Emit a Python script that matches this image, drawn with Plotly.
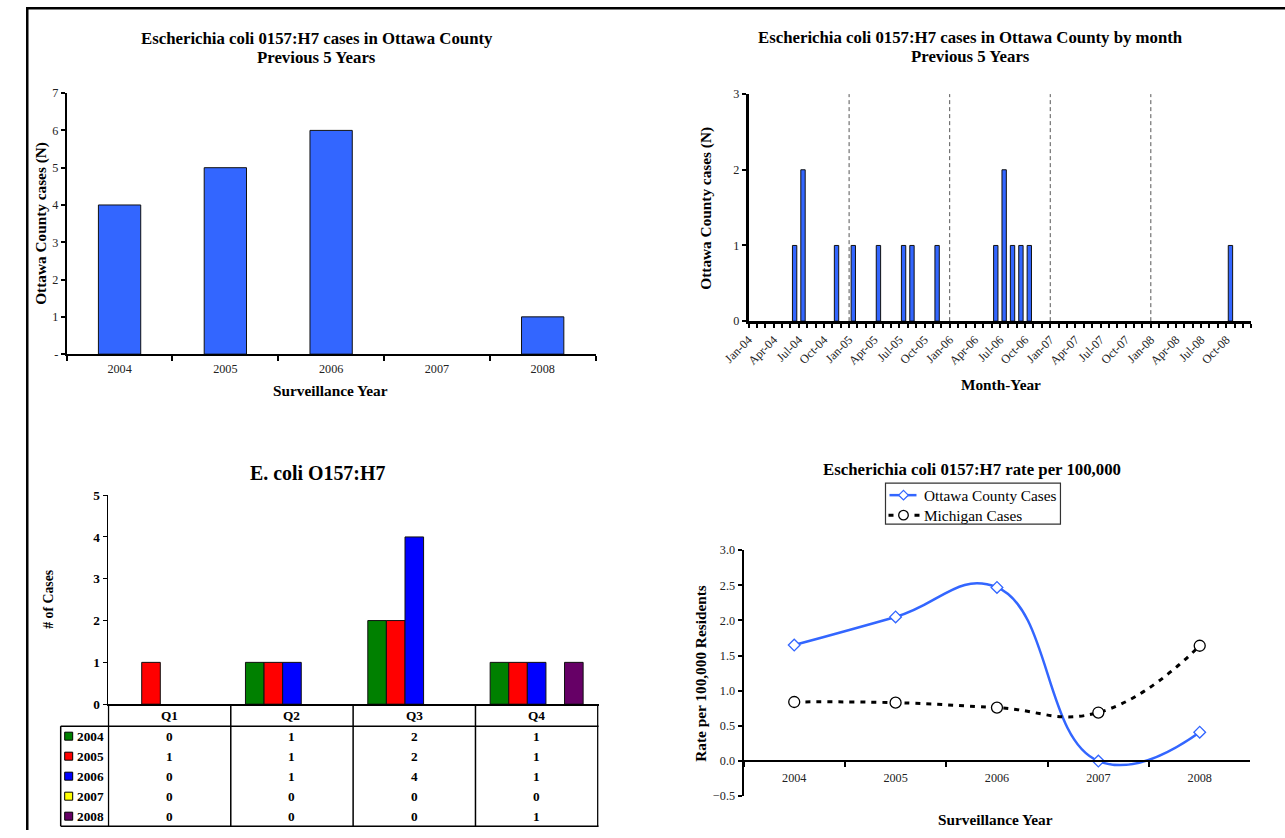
import plotly.graph_objects as go

W, H = 1285, 838
# mapping from target picture pixels to figure pixels (compensates capture offset/scale)
SX, OX, SY, OY = 0.98, 24.3, 0.982, 5.9
def px(x): return (x - OX) / SX / W
def py(y): return 1 - (y - OY) / SY / H
def fs(s): return round(s / SX, 1)

FONT = "Liberation Serif"
BLUE = "#3366FF"

# ---------------- data ----------------
years = ["2004", "2005", "2006", "2007", "2008"]
annual_cases = [4, 5, 6, 0, 1]

month_names = ["Jan", "Feb", "Mar", "Apr", "May", "Jun",
               "Jul", "Aug", "Sep", "Oct", "Nov", "Dec"]
month_labels = [f"{m}-{y[2:]}" for y in years for m in month_names]
monthly_cases = [
    0, 0, 0, 0, 0, 1, 2, 0, 0, 0, 1, 0,   # 2004
    1, 0, 0, 1, 0, 0, 1, 1, 0, 0, 1, 0,   # 2005
    0, 0, 0, 0, 0, 1, 2, 1, 1, 1, 0, 0,   # 2006
    0, 0, 0, 0, 0, 0, 0, 0, 0, 0, 0, 0,   # 2007
    0, 0, 0, 0, 0, 0, 0, 0, 0, 1, 0, 0,   # 2008
]

quarters = ["Q1", "Q2", "Q3", "Q4"]
q_2004 = [0, 1, 2, 1]
q_2005 = [1, 1, 2, 1]
q_2006 = [0, 1, 4, 1]
q_2007 = [0, 0, 0, 0]
q_2008 = [0, 0, 0, 1]
quarterly = [q_2004, q_2005, q_2006, q_2007, q_2008]
q_colors = ["#008000", "#FF0000", "#0000FF", "#FFFF00", "#660066"]

rate_series = ["Ottawa County Cases", "Michigan Cases"]
ottawa_rate = [1.65, 2.05, 2.47, 0.0, 0.41]
michigan_rate = [0.84, 0.83, 0.76, 0.69, 1.64]


def edge_widths(vals, w=1):
    # no outline on empty (zero-height) bars
    return [w if v else 0 for v in vals]


# ---------------- figure ----------------
fig = go.Figure()

# Top-left: annual bars
fig.add_trace(go.Bar(x=years, y=annual_cases, xaxis="x", yaxis="y", width=0.4,
                     marker=dict(color=BLUE, line=dict(color="#111", width=edge_widths(annual_cases))),
                     showlegend=False))

# Top-right: monthly bars
fig.add_trace(go.Bar(x=list(range(len(month_labels))), y=monthly_cases,
                     xaxis="x2", yaxis="y2", width=0.52,
                     marker=dict(color=BLUE, line=dict(color="#111", width=edge_widths(monthly_cases))),
                     showlegend=False))

# Bottom-left: quarterly grouped bars
for yr, vals, col in zip(years, quarterly, q_colors):
    fig.add_trace(go.Bar(x=quarters, y=vals, name=yr, xaxis="x3", yaxis="y3",
                         marker=dict(color=col, line=dict(color="#111", width=edge_widths(vals))),
                         showlegend=False))

# Bottom-right: rates
OTT_LINE = dict(color=BLUE, width=2.5)
MI_LINE = dict(color="black", width=3, dash="5px,6px")
fig.add_trace(go.Scatter(x=years, y=ottawa_rate, name=rate_series[0],
                         xaxis="x4", yaxis="y4", mode="lines+markers", showlegend=False,
                         line=dict(shape="spline", smoothing=1.3, **OTT_LINE),
                         marker=dict(symbol="diamond", size=9, color="white",
                                     line=dict(color=BLUE, width=1.3))))
fig.add_trace(go.Scatter(x=years, y=michigan_rate, name=rate_series[1],
                         xaxis="x4", yaxis="y4", mode="lines+markers", showlegend=False,
                         line=dict(shape="spline", smoothing=1.3, **MI_LINE),
                         marker=dict(symbol="circle", size=11, color="white",
                                     line=dict(color="black", width=1.3))))

tickfont = dict(family=FONT, size=fs(12), color="#222")
axis_common = dict(showline=True, linecolor="black", showgrid=False, zeroline=False,
                   ticks="outside", tickcolor="black")

# BR x-axis position at y = 0
br_y0, br_y1 = py(795), py(549)
br_range = [-0.5, 3.0]
br_xpos = br_y0 + (0 - br_range[0]) / (br_range[1] - br_range[0]) * (br_y1 - br_y0)

fig.update_layout(
    width=W, height=H, margin=dict(l=0, r=0, t=0, b=0),
    paper_bgcolor="white", plot_bgcolor="rgba(0,0,0,0)",
    font=dict(family=FONT, color="black"), showlegend=False,
    barmode="group", bargap=0.24, bargroupgap=0,
    xaxis=dict(domain=[px(65), px(594)], anchor="y", type="category",
               tickson="boundaries", ticklen=5, tickwidth=2, linewidth=2,
               ticklabelstandoff=2, tickfont=tickfont, **axis_common),
    yaxis=dict(domain=[py(353), py(92)], anchor="x", range=[0, 7],
               tickvals=list(range(8)), ticktext=["-"] + [str(i) for i in range(1, 8)],
               ticklen=4, tickwidth=1.5, linewidth=2, tickfont=tickfont, **axis_common),
    xaxis2=dict(domain=[px(747), px(1250)], anchor="y2", range=[-0.5, len(month_labels) - 0.5],
                tickvals=[i - 0.5 for i in range(len(month_labels) + 1)],
                ticktext=[month_labels[i] if (i < len(month_labels) and i % 3 == 0) else ""
                          for i in range(len(month_labels) + 1)],
                tickangle=-45, ticklen=4, tickwidth=2, linewidth=2.5,
                tickfont=dict(family=FONT, size=fs(12), color="#222"), **axis_common),
    yaxis2=dict(domain=[py(320), py(93)], anchor="x2", range=[0, 3], dtick=1,
                ticklen=4, tickwidth=1.5, linewidth=2.5, tickfont=tickfont, **axis_common),
    xaxis3=dict(domain=[px(106), px(597)], anchor="y3", type="category",
                showticklabels=False, showline=True, linecolor="black", linewidth=1.5,
                showgrid=False, zeroline=False, ticks=""),
    yaxis3=dict(domain=[py(703), py(494)], anchor="x3", range=[0, 5], dtick=1,
                ticklen=4, tickwidth=1, linewidth=1,
                tickfont=dict(family=FONT, size=fs(13), color="black", weight="bold"),
                **axis_common),
    xaxis4=dict(domain=[px(742), px(1249)], anchor="free", position=br_xpos,
                type="category", range=[-0.5, len(years) - 0.5], tickson="boundaries",
                ticklen=4.5, tickwidth=2, linewidth=2, ticklabelstandoff=5,
                tickfont=tickfont, **axis_common),
    # upper half of the crossing tick marks on the rate chart's category axis
    xaxis5=dict(domain=[px(742), px(1249)], anchor="free", position=br_xpos,
                overlaying="x4", range=[-0.5, len(years) - 0.5],
                tickvals=[i + 0.5 for i in range(len(years))],
                ticks="inside", ticklen=4.5, tickwidth=2, tickcolor="black",
                showticklabels=False, showline=False, showgrid=False, zeroline=False),
    yaxis4=dict(domain=[br_y0, br_y1], anchor="x4", range=br_range, dtick=0.5,
                tickformat=".1f", ticklen=4, tickwidth=2, linewidth=2,
                tickfont=tickfont, **axis_common),
)

shapes = []
# page frame (left and top edges)
fx = max(px(9.3), 0.001)
shapes.append(dict(type="line", xref="paper", yref="paper", x0=fx, x1=1.0,
                   y0=py(7.2), y1=py(7.2), line=dict(color="black", width=2.5)))
shapes.append(dict(type="line", xref="paper", yref="paper", x0=fx, x1=fx,
                   y0=py(6), y1=0, line=dict(color="black", width=2.5)))
# year separators in monthly chart
for i, lab in enumerate(month_labels):
    if i > 0 and lab.startswith("Jan"):
        shapes.append(dict(type="line", xref="x2", yref="y2", x0=i - 0.5, x1=i - 0.5,
                           y0=0, y1=3, line=dict(color="#555", width=1, dash="4px,3px")))
# data table grid (bottom-left)
tbl_top, tbl_hdr, tbl_bot = 703, 725, 825
tbl_left, tbl_right = 59, 597
row_h = (tbl_bot - tbl_hdr) / len(years)
lw = 1.5
for i in range(len(quarters) + 1):
    shapes.append(dict(type="line", xref="x3", yref="paper", x0=i - 0.5, x1=i - 0.5,
                       y0=py(tbl_top), y1=py(tbl_bot), line=dict(color="black", width=lw)))
shapes.append(dict(type="line", xref="paper", yref="paper", x0=px(tbl_left), x1=px(tbl_left),
                   y0=py(tbl_hdr), y1=py(tbl_bot), line=dict(color="black", width=lw)))
for yy in (tbl_hdr, tbl_bot):
    shapes.append(dict(type="line", xref="paper", yref="paper", x0=px(tbl_left), x1=px(tbl_right),
                       y0=py(yy), y1=py(yy), line=dict(color="black", width=lw)))
# legend keys in table
for r, col in enumerate(q_colors):
    cy = tbl_hdr + row_h * (r + 0.5)
    shapes.append(dict(type="rect", xref="paper", yref="paper", x0=px(63), x1=px(71),
                       y0=py(cy + 4), y1=py(cy - 4), fillcolor=col,
                       line=dict(color="black", width=1)))

# legend for the rate chart (drawn as a boxed key)
lg_x0, lg_x1, lg_y0, lg_y1 = 884, 1059, 482, 523
shapes.append(dict(type="rect", xref="paper", yref="paper", x0=px(lg_x0), x1=px(lg_x1),
                   y0=py(lg_y1), y1=py(lg_y0), line=dict(color="#333", width=1.2)))
row1, row2, mx, r_m = 494, 514, 902, 4.8
shapes.append(dict(type="line", xref="paper", yref="paper", x0=px(888), x1=px(915),
                   y0=py(row1), y1=py(row1), line=OTT_LINE))
shapes.append(dict(type="path", xref="paper", yref="paper",
                   path=(f"M{px(mx)},{py(row1 - r_m)} L{px(mx + r_m)},{py(row1)} "
                         f"L{px(mx)},{py(row1 + r_m)} L{px(mx - r_m)},{py(row1)} Z"),
                   fillcolor="white", line=dict(color=BLUE, width=1.3)))
shapes.append(dict(type="line", xref="paper", yref="paper", x0=px(887), x1=px(919),
                   y0=py(row2), y1=py(row2), line=dict(color="black", width=3, dash="5px,8px")))
shapes.append(dict(type="circle", xref="paper", yref="paper",
                   x0=px(mx - r_m), x1=px(mx + r_m), y0=py(row2 + r_m), y1=py(row2 - r_m),
                   fillcolor="white", line=dict(color="black", width=1.3)))

ann = []
def txt(x, y, s, size, bold=True, angle=0, xanchor="center", xref="paper", color="black"):
    ann.append(dict(x=x, y=y, xref=xref, yref="paper", text=(f"<b>{s}</b>" if bold else s),
                    showarrow=False, textangle=angle, xanchor=xanchor, yanchor="middle",
                    font=dict(family=FONT, size=fs(size), color=color)))

# titles
txt(px(315), py(37), "Escherichia coli 0157:H7 cases in Ottawa County", 16.5)
txt(px(315), py(56.5), "Previous 5 Years", 16.5)
txt(px(969), py(36), "Escherichia coli 0157:H7 cases in Ottawa County by month", 16.5)
txt(px(969), py(55.5), "Previous 5 Years", 16.5)
txt(px(316), py(472), "E. coli O157:H7", 19.5)
txt(px(971), py(468), "Escherichia coli 0157:H7 rate per 100,000", 16.5)
# axis titles
txt(px(329), py(389), "Surveillance Year", 15)
txt(px(39), py(222), "Ottawa County cases (N)", 15, angle=-90)
txt(px(1000), py(383), "Month-Year", 15)
txt(px(705), py(207), "Ottawa County cases (N)", 15, angle=-90)
txt(px(46), py(598), "# of Cases", 13.5, angle=-90)
txt(px(699), py(672), "Rate per 100,000 Residents", 15, angle=-90)
txt(px(994), py(818), "Surveillance Year", 15)
# legend labels
txt(px(921), py(row1), rate_series[0], 15, bold=False, xanchor="left")
txt(px(921), py(row2), rate_series[1], 15, bold=False, xanchor="left")
# table contents
for q in quarters:
    txt(q, py((tbl_top + tbl_hdr) / 2), q, 13, xref="x3")
for r, (yr, vals) in enumerate(zip(years, quarterly)):
    cy = tbl_hdr + row_h * (r + 0.5)
    txt(px(73), py(cy), yr, 13, xanchor="left")
    for q, v in zip(quarters, vals):
        txt(q, py(cy), str(v), 13, xref="x3")

fig.update_layout(shapes=shapes, annotations=ann)

fig.write_html("out.html", config={"displayModeBar": False},
               post_script="document.body.style.margin='0';document.body.style.overflow='hidden';")
